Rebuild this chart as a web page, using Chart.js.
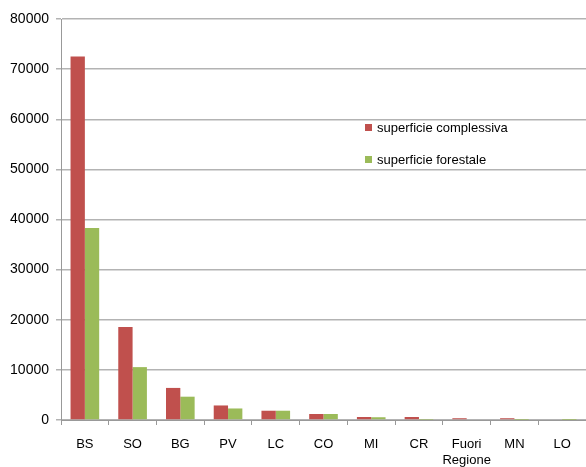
<!DOCTYPE html>
<html>
<head>
<meta charset="utf-8">
<script src="https://cdn.jsdelivr.net/npm/chart.js@4"></script>
<style>
  html, body { margin: 0; padding: 0; background: #fff; }
  #wrap { width: 586px; height: 467px; }
</style>
</head>
<body>
<div id="wrap"><canvas id="chart"></canvas></div>
<script>
const categories = ['BS', 'SO', 'BG', 'PV', 'LC', 'CO', 'MI', 'CR', ['Fuori', 'Regione'], 'MN', 'LO'];
const superficieComplessiva = [72500, 18550, 6400, 2900, 1850, 1200, 600, 600, 350, 350, 150];
const superficieForestale = [38300, 10550, 4650, 2300, 1850, 1200, 550, 50, 150, 30, 20];
const yTicks = [0, 10000, 20000, 30000, 40000, 50000, 60000, 70000, 80000];

const fontFamily = '"Liberation Sans", Arial, sans-serif';

// legend drawn inside the plot, to the right
const insideLegend = {
  id: 'insideLegend',
  afterDraw(chart) {
    const ctx = chart.ctx;
    const items = [
      { y: 128, ds: chart.data.datasets[0] },
      { y: 160, ds: chart.data.datasets[1] }
    ];
    ctx.save();
    ctx.font = '13px ' + fontFamily;
    ctx.textBaseline = 'middle';
    items.forEach((it) => {
      ctx.fillStyle = it.ds.backgroundColor;
      ctx.fillRect(365, it.y - 4, 7, 7);
      ctx.fillStyle = '#000';
      ctx.fillText(it.ds.label, 377, it.y);
    });
    ctx.restore();
  }
};

new Chart(document.getElementById('chart').getContext('2d'), {
  type: 'bar',
  data: {
    labels: categories,
    datasets: [
      {
        label: 'superficie complessiva',
        backgroundColor: '#C0504D',
        data: superficieComplessiva,
      },
      {
        label: 'superficie forestale',
        backgroundColor: '#9BBB59',
        data: superficieForestale,
      },
    ],
  },
  options: {
    responsive: true,
    maintainAspectRatio: false,
    animation: false,
    layout: { padding: { top: 19, right: 0, left: 0, bottom: 0 } },
    plugins: {
      legend: { display: false },
      tooltip: { enabled: false },
    },
    datasets: {
      bar: { barPercentage: 1, categoryPercentage: 0.6 },
    },
    scales: {
      x: {
        grid: {
          offset: true,
          drawOnChartArea: false,
          drawTicks: true,
          tickLength: 5,
          color: '#999',
        },
        border: { color: '#999', width: 1 },
        ticks: {
          color: '#000',
          font: { family: fontFamily, size: 13 },
          padding: 12,
          maxRotation: 0,
          autoSkip: false,
        },
        afterFit(scale) { scale.height = 47; },
      },
      y: {
        min: 0,
        max: 80000,
        afterBuildTicks(scale) { scale.ticks = yTicks.map((v) => ({ value: v })); },
        grid: {
          color: '#b3b3b3',
          lineWidth: 1.5,
          tickLength: 5,
        },
        border: { color: '#999', width: 1 },
        ticks: {
          color: '#000',
          font: { family: fontFamily, size: 14 },
          padding: 7,
          callback: (v) => String(v),
        },
        afterFit(scale) { scale.width = 61; },
      },
    },
  },
  plugins: [insideLegend],
});
</script>
</body>
</html>
